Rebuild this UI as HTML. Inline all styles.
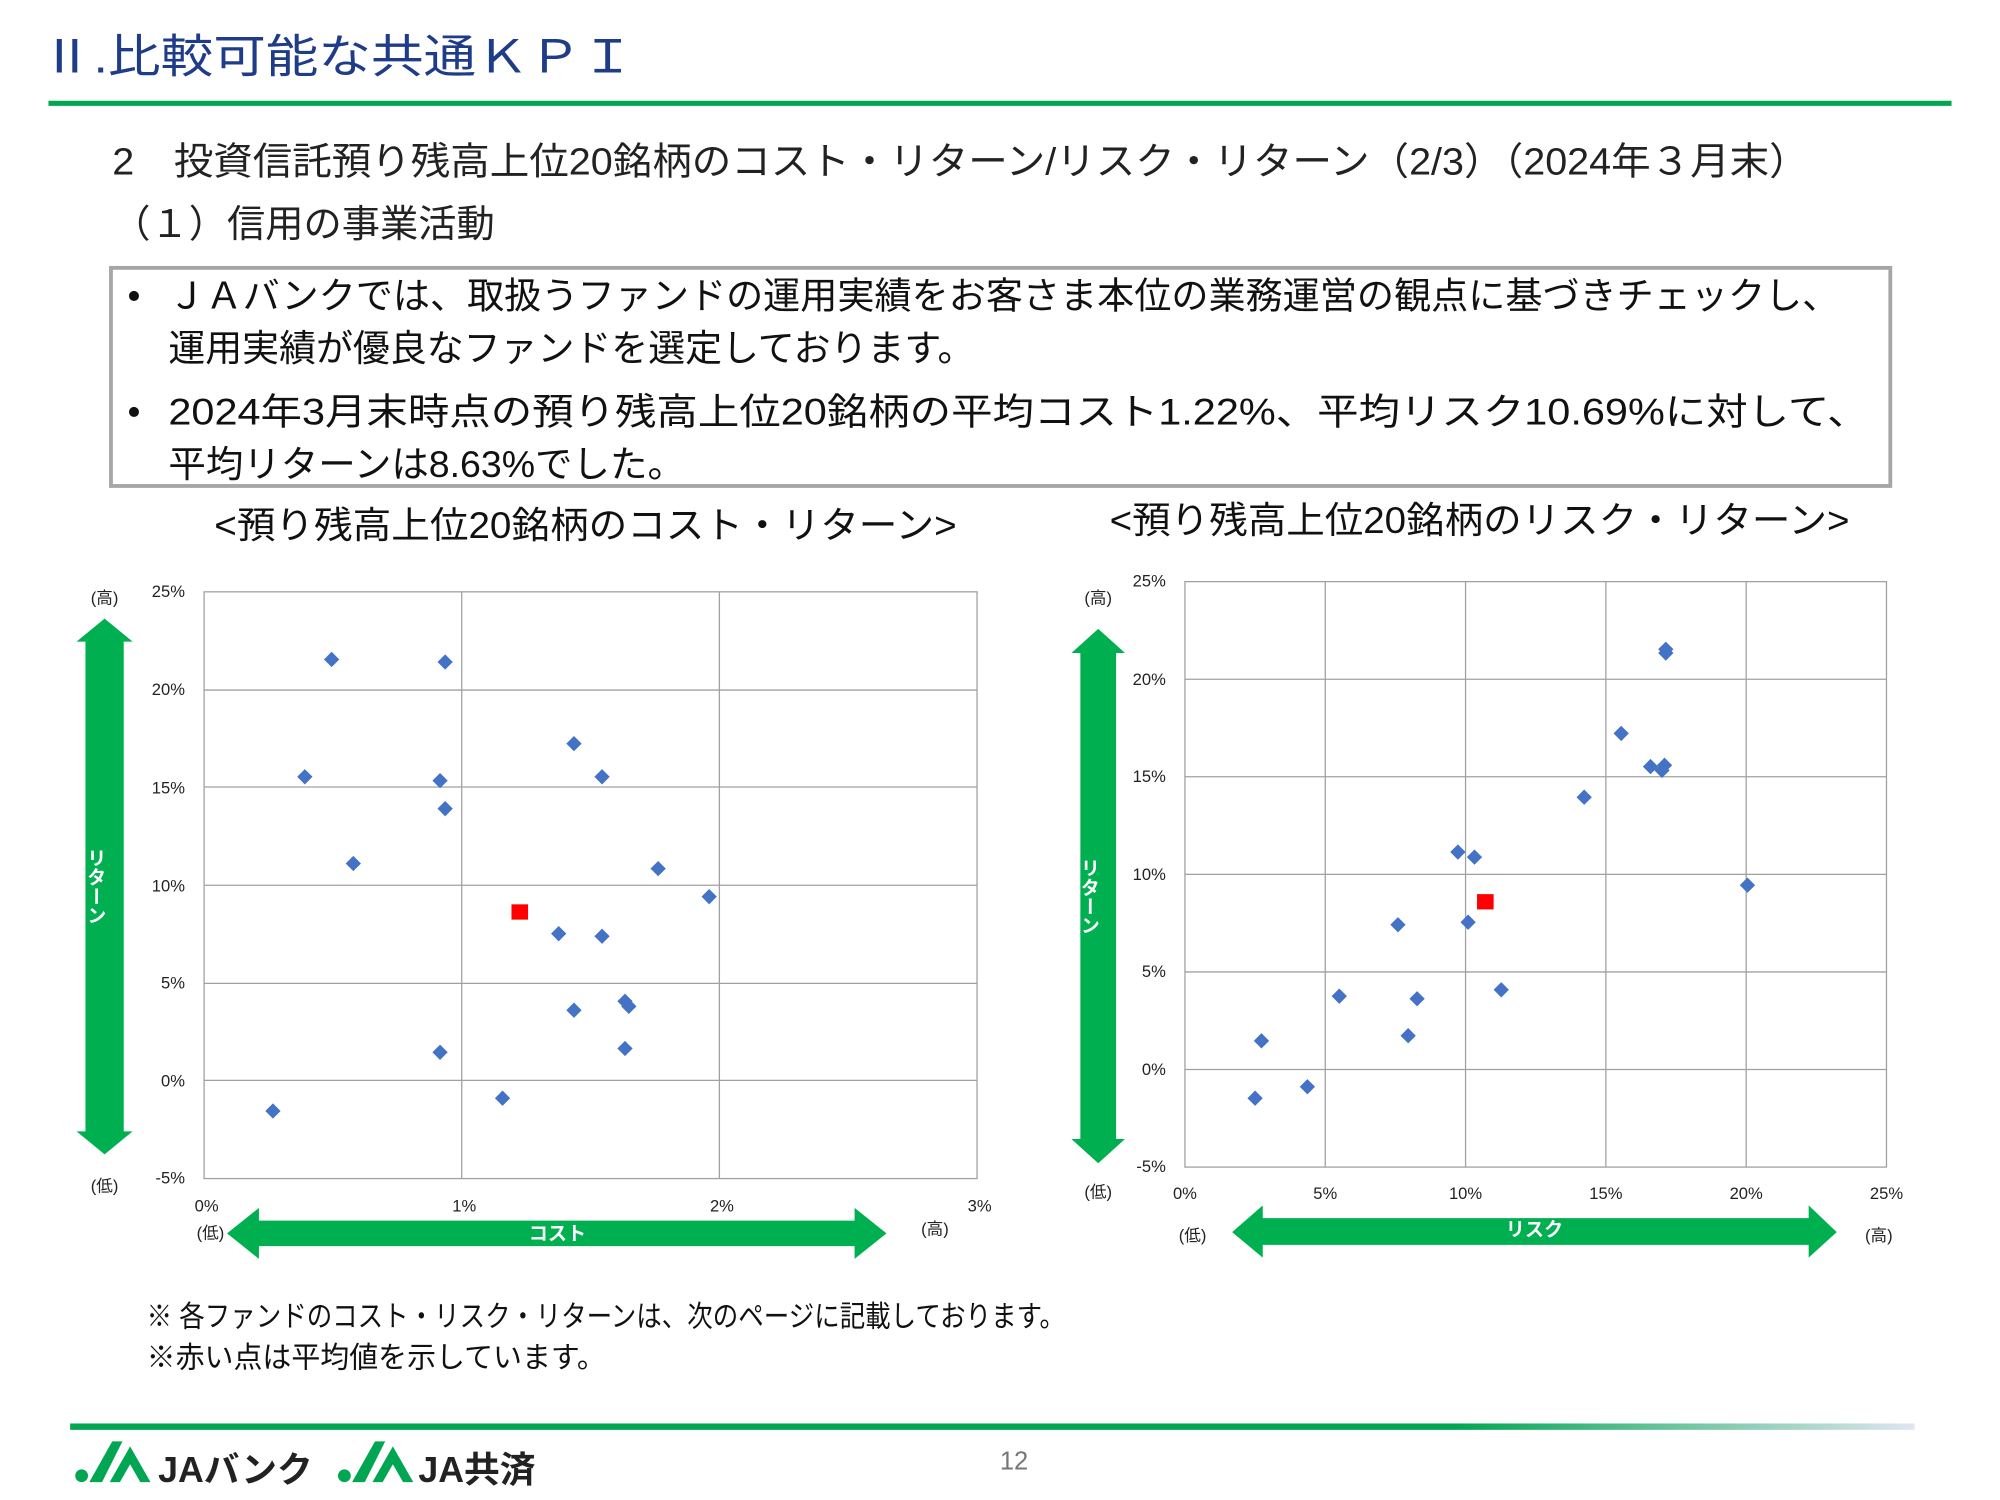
<!DOCTYPE html>
<html><head><meta charset="utf-8"><style>
html,body{margin:0;padding:0;background:#fff;}
svg{display:block;}
text{font-family:"Liberation Sans","Noto Sans CJK JP",sans-serif;}
</style></head><body>
<svg width="2000" height="1500" viewBox="0 0 1568 1176" xmlns="http://www.w3.org/2000/svg">
<defs>
<linearGradient id="bl" x1="0" x2="1"><stop offset="0.75" stop-color="#00a651"/><stop offset="1" stop-color="#dfe6f0"/></linearGradient>
</defs>
<text x="32" y="57" font-size="36" fill="#1f3c88" textLength="465" lengthAdjust="spacingAndGlyphs">Ⅱ.比較可能な共通ＫＰＩ</text>
<rect x="38" y="79" width="1492" height="4" fill="#00a651"/>
<text x="88" y="137" font-size="30" fill="#222" textLength="1330" lengthAdjust="spacingAndGlyphs">2　投資信託預り残高上位20銘柄のコスト・リターン/リスク・リターン（2/3）（2024年３月末）</text>
<text x="88" y="186" font-size="30" fill="#222">（１）信用の事業活動</text>
<rect x="87" y="210" width="1395" height="171" fill="none" stroke="#a6a6a6" stroke-width="3"/>
<g font-size="29" fill="#111">
<text x="100" y="242">•</text><text x="132" y="242" textLength="1310" lengthAdjust="spacingAndGlyphs">ＪＡバンクでは、取扱うファンドの運用実績をお客さま本位の業務運営の観点に基づきチェックし、</text>
<text x="132" y="283" textLength="632" lengthAdjust="spacingAndGlyphs">運用実績が優良なファンドを選定しております。</text>
<text x="100" y="333">•</text><text x="132" y="333" textLength="1333" lengthAdjust="spacingAndGlyphs">2024年3月末時点の預り残高上位20銘柄の平均コスト1.22%、平均リスク10.69%に対して、</text>
<text x="132" y="374" textLength="405" lengthAdjust="spacingAndGlyphs">平均リターンは8.63%でした。</text>
</g>
<text x="168" y="422" font-size="29" fill="#111" textLength="582" lengthAdjust="spacingAndGlyphs">&lt;預り残高上位20銘柄のコスト・リターン&gt;</text>
<text x="870" y="418" font-size="29" fill="#111" textLength="580" lengthAdjust="spacingAndGlyphs">&lt;預り残高上位20銘柄のリスク・リターン&gt;</text>

<!-- left chart -->
<g stroke="#a0a0a0" stroke-width="1" fill="none">
<rect x="160" y="464" width="606" height="460"/>
<line x1="362" y1="464" x2="362" y2="924"/><line x1="564" y1="464" x2="564" y2="924"/>
<line x1="160" y1="541" x2="766" y2="541"/><line x1="160" y1="617" x2="766" y2="617"/><line x1="160" y1="694" x2="766" y2="694"/><line x1="160" y1="771" x2="766" y2="771"/><line x1="160" y1="847" x2="766" y2="847"/>
</g>
<g font-size="13" fill="#222" text-anchor="end">
<text x="145" y="468">25%</text><text x="145" y="545">20%</text><text x="145" y="622">15%</text><text x="145" y="699">10%</text><text x="145" y="775">5%</text><text x="145" y="852">0%</text><text x="145" y="928">-5%</text>
</g>
<g font-size="13" fill="#222" text-anchor="middle">
<text x="162" y="950">0%</text><text x="364" y="950">1%</text><text x="566" y="950">2%</text><text x="768" y="950">3%</text>
<text x="82" y="473">(高)</text><text x="82" y="934">(低)</text><text x="165" y="971">(低)</text><text x="733" y="968">(高)</text>
</g>
<polygon points="82,485 104,503 97,503 97,887 104,887 82,905 60,887 67,887 67,503 60,503" fill="#00b050"/>
<text x="74" y="665" font-size="15" font-weight="bold" fill="#fff" style="writing-mode:vertical-rl">リターン</text>
<polygon points="178,967 203,947 203,957 670,957 670,947 695,967 670,987 670,977 203,977 203,987" fill="#00b050"/>
<text x="437" y="972" font-size="15" font-weight="bold" fill="#fff" text-anchor="middle">コスト</text>
<rect x="401" y="709" width="13" height="12" fill="#ff0000"/>

<!-- right chart -->
<g stroke="#a0a0a0" stroke-width="1" fill="none">
<rect x="929" y="456" width="550" height="459"/>
<line x1="1039" y1="456" x2="1039" y2="915"/><line x1="1149" y1="456" x2="1149" y2="915"/><line x1="1259" y1="456" x2="1259" y2="915"/><line x1="1369" y1="456" x2="1369" y2="915"/>
<line x1="929" y1="532.5" x2="1479" y2="532.5"/><line x1="929" y1="609" x2="1479" y2="609"/><line x1="929" y1="685.5" x2="1479" y2="685.5"/><line x1="929" y1="762" x2="1479" y2="762"/><line x1="929" y1="838.5" x2="1479" y2="838.5"/>
</g>
<g font-size="13" fill="#222" text-anchor="end">
<text x="914" y="460">25%</text><text x="914" y="537">20%</text><text x="914" y="613">15%</text><text x="914" y="690">10%</text><text x="914" y="766">5%</text><text x="914" y="843">0%</text><text x="914" y="919">-5%</text>
</g>
<g font-size="13" fill="#222" text-anchor="middle">
<text x="929" y="940">0%</text><text x="1039" y="940">5%</text><text x="1149" y="940">10%</text><text x="1259" y="940">15%</text><text x="1369" y="940">20%</text><text x="1479" y="940">25%</text>
<text x="861" y="473">(高)</text><text x="861" y="939">(低)</text><text x="935" y="973">(低)</text><text x="1473" y="973">(高)</text>
</g>
<polygon points="861,493 882,512 875,512 875,893 882,893 861,912 840,893 847,893 847,512 840,512" fill="#00b050"/>
<text x="853" y="673" font-size="15" font-weight="bold" fill="#fff" style="writing-mode:vertical-rl">リターン</text>
<polygon points="966,966 990,945 990,955 1418,955 1418,945 1440,966 1418,986 1418,976 990,976 990,986" fill="#00b050"/>
<text x="1203" y="969" font-size="15" font-weight="bold" fill="#fff" text-anchor="middle">リスク</text>
<rect x="1158" y="701" width="13" height="12" fill="#ff0000"/>

<g fill="#4472c4">
<path d="M260,511l6,6l-6,6l-6-6z"/><path d="M349,513l6,6l-6,6l-6-6z"/><path d="M239,603l6,6l-6,6l-6-6z"/><path d="M345,606l6,6l-6,6l-6-6z"/><path d="M349,628l6,6l-6,6l-6-6z"/><path d="M277,671l6,6l-6,6l-6-6z"/><path d="M450,577l6,6l-6,6l-6-6z"/><path d="M472,603l6,6l-6,6l-6-6z"/><path d="M516,675l6,6l-6,6l-6-6z"/><path d="M556,697l6,6l-6,6l-6-6z"/><path d="M438,726l6,6l-6,6l-6-6z"/><path d="M472,728l6,6l-6,6l-6-6z"/><path d="M450,786l6,6l-6,6l-6-6z"/><path d="M490,779l6,6l-6,6l-6-6z"/><path d="M493,783l6,6l-6,6l-6-6z"/><path d="M490,816l6,6l-6,6l-6-6z"/><path d="M345,819l6,6l-6,6l-6-6z"/><path d="M394,855l6,6l-6,6l-6-6z"/><path d="M214,865l6,6l-6,6l-6-6z"/>
<path d="M1306,503l6,6l-6,6l-6-6z"/><path d="M1306,506l6,6l-6,6l-6-6z"/><path d="M1271,569l6,6l-6,6l-6-6z"/><path d="M1294,595l6,6l-6,6l-6-6z"/><path d="M1305,594l6,6l-6,6l-6-6z"/><path d="M1303,598l6,6l-6,6l-6-6z"/><path d="M1242,619l6,6l-6,6l-6-6z"/><path d="M1143,662l6,6l-6,6l-6-6z"/><path d="M1156,666l6,6l-6,6l-6-6z"/><path d="M1370,688l6,6l-6,6l-6-6z"/><path d="M1096,719l6,6l-6,6l-6-6z"/><path d="M1151,717l6,6l-6,6l-6-6z"/><path d="M1050,775l6,6l-6,6l-6-6z"/><path d="M1111,777l6,6l-6,6l-6-6z"/><path d="M1177,770l6,6l-6,6l-6-6z"/><path d="M1104,806l6,6l-6,6l-6-6z"/><path d="M989,810l6,6l-6,6l-6-6z"/><path d="M1025,846l6,6l-6,6l-6-6z"/><path d="M984,855l6,6l-6,6l-6-6z"/>
</g>

<text x="115" y="1040" font-size="23" fill="#111" textLength="720" lengthAdjust="spacingAndGlyphs">※ 各ファンドのコスト・リスク・リターンは、次のページに記載しております。</text>
<text x="115" y="1072" font-size="23" fill="#111" textLength="360" lengthAdjust="spacingAndGlyphs">※赤い点は平均値を示しています。</text>

<rect x="55" y="1116" width="1446" height="5" fill="url(#bl)"/>
<text x="795" y="1152" font-size="20" fill="#777" text-anchor="middle">12</text>
<g>
<circle cx="64" cy="1157" r="5" fill="#00a651"/>
<polygon points="70,1162 88,1130 96,1130 80,1162" fill="#00a651"/>
<polygon points="86,1162 102,1134 118,1162 110,1162 102,1148 94,1162" fill="#00a651"/>
<text x="124" y="1162" font-size="28" font-weight="bold" fill="#222">JAバンク</text>
<circle cx="270" cy="1157" r="5" fill="#00a651"/>
<polygon points="276,1162 294,1130 302,1130 286,1162" fill="#00a651"/>
<polygon points="292,1162 308,1134 324,1162 316,1162 308,1148 300,1162" fill="#00a651"/>
<text x="328" y="1162" font-size="28" font-weight="bold" fill="#222">JA共済</text>
</g>
</svg>
</body></html>
